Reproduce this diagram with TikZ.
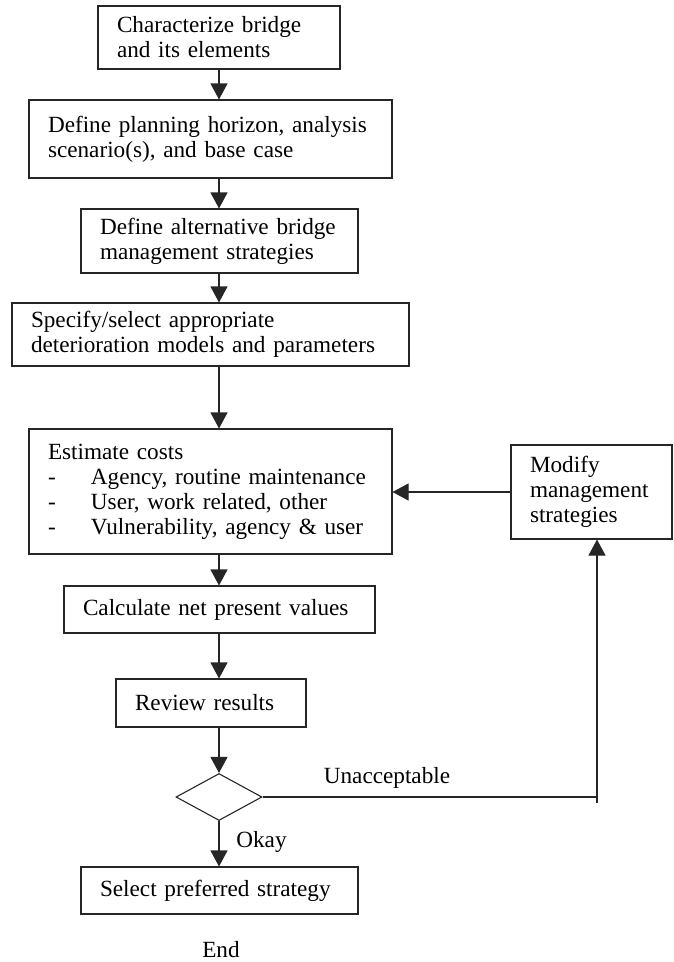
\documentclass[tikz,border=0pt]{standalone}
\usepackage{fontspec}
\setmainfont{Liberation Serif}
\usetikzlibrary{arrows.meta,shapes.geometric}
\begin{document}
\begin{tikzpicture}[x=1pt,y=-1pt,
  every node/.style={font=\fontsize{23.2}{25}\selectfont},
  box/.style={draw=black!85, line width=1.1pt, align=left, inner xsep=19pt, inner ysep=0pt},
  arr/.style={-{Triangle[length=16pt,width=17pt]}, line width=1.1pt, draw=black!85},
  ln/.style={line width=1.1pt, draw=black!85},
  lbl/.style={inner sep=0pt}]
\useasboundingbox (0,0) rectangle (674,962);
\coordinate (spine) at (219,0);

\node[box, text width=204pt, minimum height=63pt] (b1) at (219,37.5) {Characterize bridge\\and its elements};
\node[box, text width=325pt, minimum height=78pt] (b2) at (210.5,139) {Define planning horizon, analysis\\scenario(s), and base case};
\node[box, text width=239pt, minimum height=64pt] (b3) at (219.5,241) {Define alternative bridge\\management strategies};
\node[box, text width=359pt, minimum height=63pt] (b4) at (210.5,334.5) {Specify/select appropriate\\deterioration models and parameters};
\node[box, text width=325pt, minimum height=125pt] (b5) at (210.5,491.5) {Estimate costs\\\makebox[43pt][l]{-}Agency, routine maintenance\\\makebox[43pt][l]{-}User, work related, other\\\makebox[43pt][l]{-}Vulnerability, agency \& user};
\node[box, text width=123pt, minimum height=94pt] (mod) at (591.5,492) {Modify\\management\\strategies};
\node[box, text width=273pt, minimum height=47pt] (calc) at (219.5,609.5) {Calculate net present values};
\node[box, text width=152pt, minimum height=48pt] (rev) at (211,703) {Review results};
\node[draw=black!85, line width=1.1pt, shape=diamond, minimum width=86pt, minimum height=47pt, inner sep=0pt] (dia) at (219,797) {};
\node[box, text width=239pt, minimum height=47pt] (sel) at (219.5,890.5) {Select preferred strategy};
\node[lbl] (end) at (221,950) {End};
\node[lbl] (unacc) at (387,778) {Unacceptable};
\node[lbl] (okay) at (261.5,842) {Okay};

\draw[arr] (b1.south -| spine) -- (b2.north -| spine);
\draw[arr] (b2.south -| spine) -- (b3.north -| spine);
\draw[arr] (b3.south -| spine) -- (b4.north -| spine);
\draw[arr] (b4.south -| spine) -- (b5.north -| spine);
\draw[arr] (b5.south -| spine) -- (calc.north -| spine);
\draw[arr] (calc.south -| spine) -- (rev.north -| spine);
\draw[arr] (rev.south -| spine) -- (dia.north);
\draw[arr] (dia.south) -- (sel.north -| spine);
\draw[arr] (mod.west) -- (b5.east |- mod.west);

\coordinate (fb) at (597,797);
\draw[ln] (dia.east) -- (fb);
\draw[arr] ([yshift=-6pt]fb) -- (mod.south -| fb);
\end{tikzpicture}
\end{document}
